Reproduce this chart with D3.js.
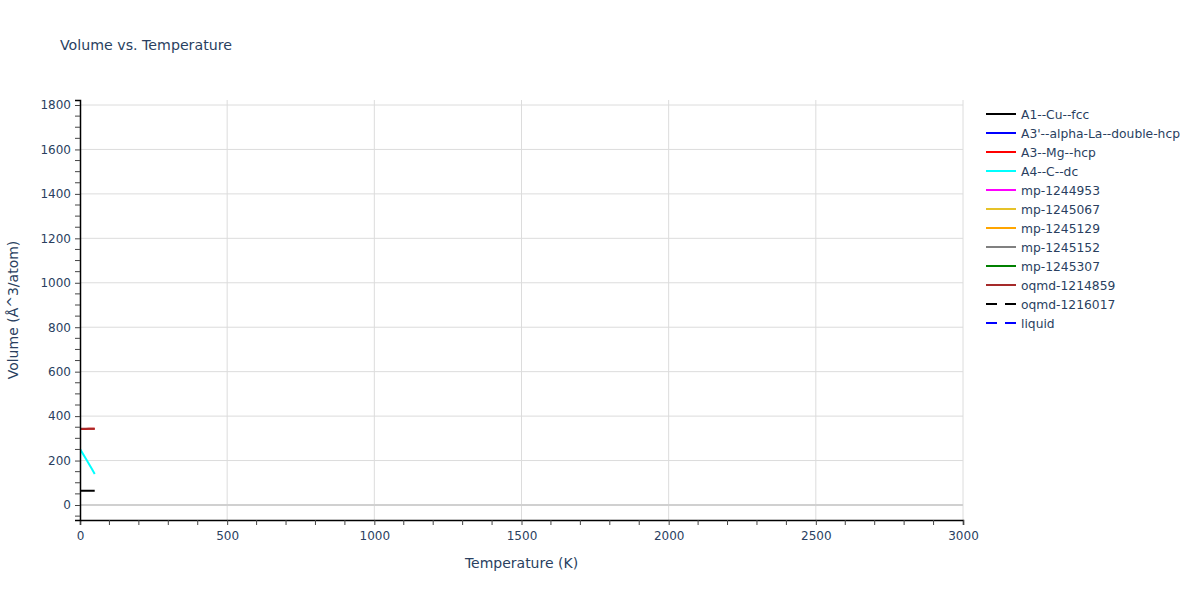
<!DOCTYPE html>
<html>
<head>
<meta charset="utf-8">
<script src="https://cdn.jsdelivr.net/npm/d3@7"></script>
<style>
  body { margin: 0; background: #fff; }
  svg { font-family: "DejaVu Sans", Verdana, sans-serif; }
</style>
</head>
<body>
<svg id="chart" width="1200" height="600"></svg>
<script>
// ---- data ----
const temperatures = [0, 10, 20, 30, 40, 50];
const seriesNames = ["A1--Cu--fcc", "A3'--alpha-La--double-hcp", "A3--Mg--hcp", "A4--C--dc",
  "mp-1244953", "mp-1245067", "mp-1245129", "mp-1245152", "mp-1245307",
  "oqmd-1214859", "oqmd-1216017", "liquid"];
const seriesColors = ["black", "blue", "red", "cyan", "magenta", "#e6c229", "orange",
  "gray", "green", "brown", "black", "blue"];
const seriesDashed = [false, false, false, false, false, false, false, false, false, false, true, true];
const volA1 = [64, 64, 64, 64.1, 64.2, 64.3];
const volA3dhcp = [];
const volA3 = [342.5, 342.5, 342.5, 342.6, 342.8, 343];
const volA4 = [252, 230, 208, 186, 163, 140];
const volMp1244953 = [];
const volMp1245067 = [];
const volMp1245129 = [];
const volMp1245152 = [];
const volMp1245307 = [];
const volOqmd1214859 = [343, 343, 343, 343.1, 343.3, 343.5];
const volOqmd1216017 = [];
const volLiquid = [];
const seriesValues = [volA1, volA3dhcp, volA3, volA4, volMp1244953, volMp1245067,
  volMp1245129, volMp1245152, volMp1245307, volOqmd1214859, volOqmd1216017, volLiquid];
const xTicks = [0, 500, 1000, 1500, 2000, 2500, 3000];
const yTicks = [0, 200, 400, 600, 800, 1000, 1200, 1400, 1600, 1800];

// ---- layout ----
const svg = d3.select("#chart");
const pL = 80, pR = 963, pT = 100, pB = 520;
const textColor = "#2a3f5f";
const x = d3.scaleLinear().domain([0, 3000]).range([pL, pR]);
const y = d3.scaleLinear().domain([-67.5, 1822.5]).range([pB, pT]);

// grid
const g = svg.append("g");
g.selectAll("line.vg").data(xTicks.filter(d => d > 0)).join("line")
  .attr("x1", d => x(d)).attr("x2", d => x(d)).attr("y1", pT).attr("y2", pB)
  .attr("stroke", "#dcdcdc").attr("stroke-width", 1);
g.selectAll("line.hg").data(yTicks.filter(d => d !== 0)).join("line")
  .attr("x1", pL).attr("x2", pR).attr("y1", d => y(d)).attr("y2", d => y(d))
  .attr("stroke", "#dcdcdc").attr("stroke-width", 1);
// zero line
g.append("line").attr("x1", pL).attr("x2", pR).attr("y1", y(0)).attr("y2", y(0))
  .attr("stroke", "#d0d0d0").attr("stroke-width", 2);

// series
svg.append("clipPath").attr("id", "clip").append("rect")
  .attr("x", pL).attr("y", pT).attr("width", pR - pL).attr("height", pB - pT);
const lineGen = d3.line().x((d, i) => x(temperatures[i])).y(d => y(d));
const lines = svg.append("g").attr("clip-path", "url(#clip)");
seriesValues.forEach((vals, i) => {
  if (!vals.length) return;
  lines.append("path").datum(vals).attr("d", lineGen)
    .attr("fill", "none").attr("stroke", seriesColors[i]).attr("stroke-width", 2)
    .attr("stroke-dasharray", seriesDashed[i] ? "9,9" : null);
});

// axes
const xAxis = d3.axisBottom(x).tickValues(xTicks).tickFormat(d3.format("d")).tickSize(5).tickPadding(6);
const xa = svg.append("g").attr("transform", `translate(0,${pB})`).call(xAxis);
const xMinor = d3.range(0, 3001, 100).filter(d => d % 500 !== 0);
xa.selectAll("line.minor").data(xMinor).join("line").attr("class", "minor")
  .attr("x1", d => x(d)).attr("x2", d => x(d)).attr("y1", 0).attr("y2", 5).attr("stroke", "#444");

const yAxis = d3.axisLeft(y).tickValues(yTicks).tickFormat(d3.format("d")).tickSize(5).tickPadding(4);
const ya = svg.append("g").attr("transform", `translate(${pL},0)`).call(yAxis);
const yMinor = d3.range(-50, 1801, 50).filter(d => d % 200 !== 0);
ya.selectAll("line.minor").data(yMinor).join("line").attr("class", "minor")
  .attr("x1", -5).attr("x2", 0).attr("y1", d => y(d)).attr("y2", d => y(d)).attr("stroke", "#444");

[xa, ya].forEach(a => {
  a.select(".domain").attr("stroke", "#000").attr("stroke-width", 1.5);
  a.selectAll(".tick line").attr("stroke", "#444");
  a.selectAll(".tick text").attr("fill", textColor).attr("font-size", 12)
    .attr("font-family", "\"DejaVu Sans\", sans-serif");
});

// titles
svg.append("text").attr("x", 60).attr("y", 50).attr("fill", textColor)
  .attr("font-size", 14.2).text("Volume vs. Temperature");
svg.append("text").attr("x", (pL + pR) / 2).attr("y", 568).attr("text-anchor", "middle")
  .attr("fill", textColor).attr("font-size", 14).text("Temperature (K)");
svg.append("text").attr("transform", `translate(18,${(pT + pB) / 2}) rotate(-90)`)
  .attr("text-anchor", "middle").attr("fill", textColor).attr("font-size", 14)
  .text("Volume (Å^3/atom)");

// legend
const leg = svg.append("g").attr("transform", "translate(986,114)");
seriesNames.forEach((name, i) => {
  const row = leg.append("g").attr("transform", `translate(0,${i * 19})`);
  row.append("line").attr("x1", 0).attr("x2", 30).attr("y1", 0).attr("y2", 0)
    .attr("stroke", seriesColors[i]).attr("stroke-width", 2)
    .attr("stroke-dasharray", seriesDashed[i] ? "11,8" : null);
  row.append("text").attr("x", 35).attr("y", 4.5).attr("fill", textColor)
    .attr("font-size", 12.3).text(name);
});
</script>
</body>
</html>
